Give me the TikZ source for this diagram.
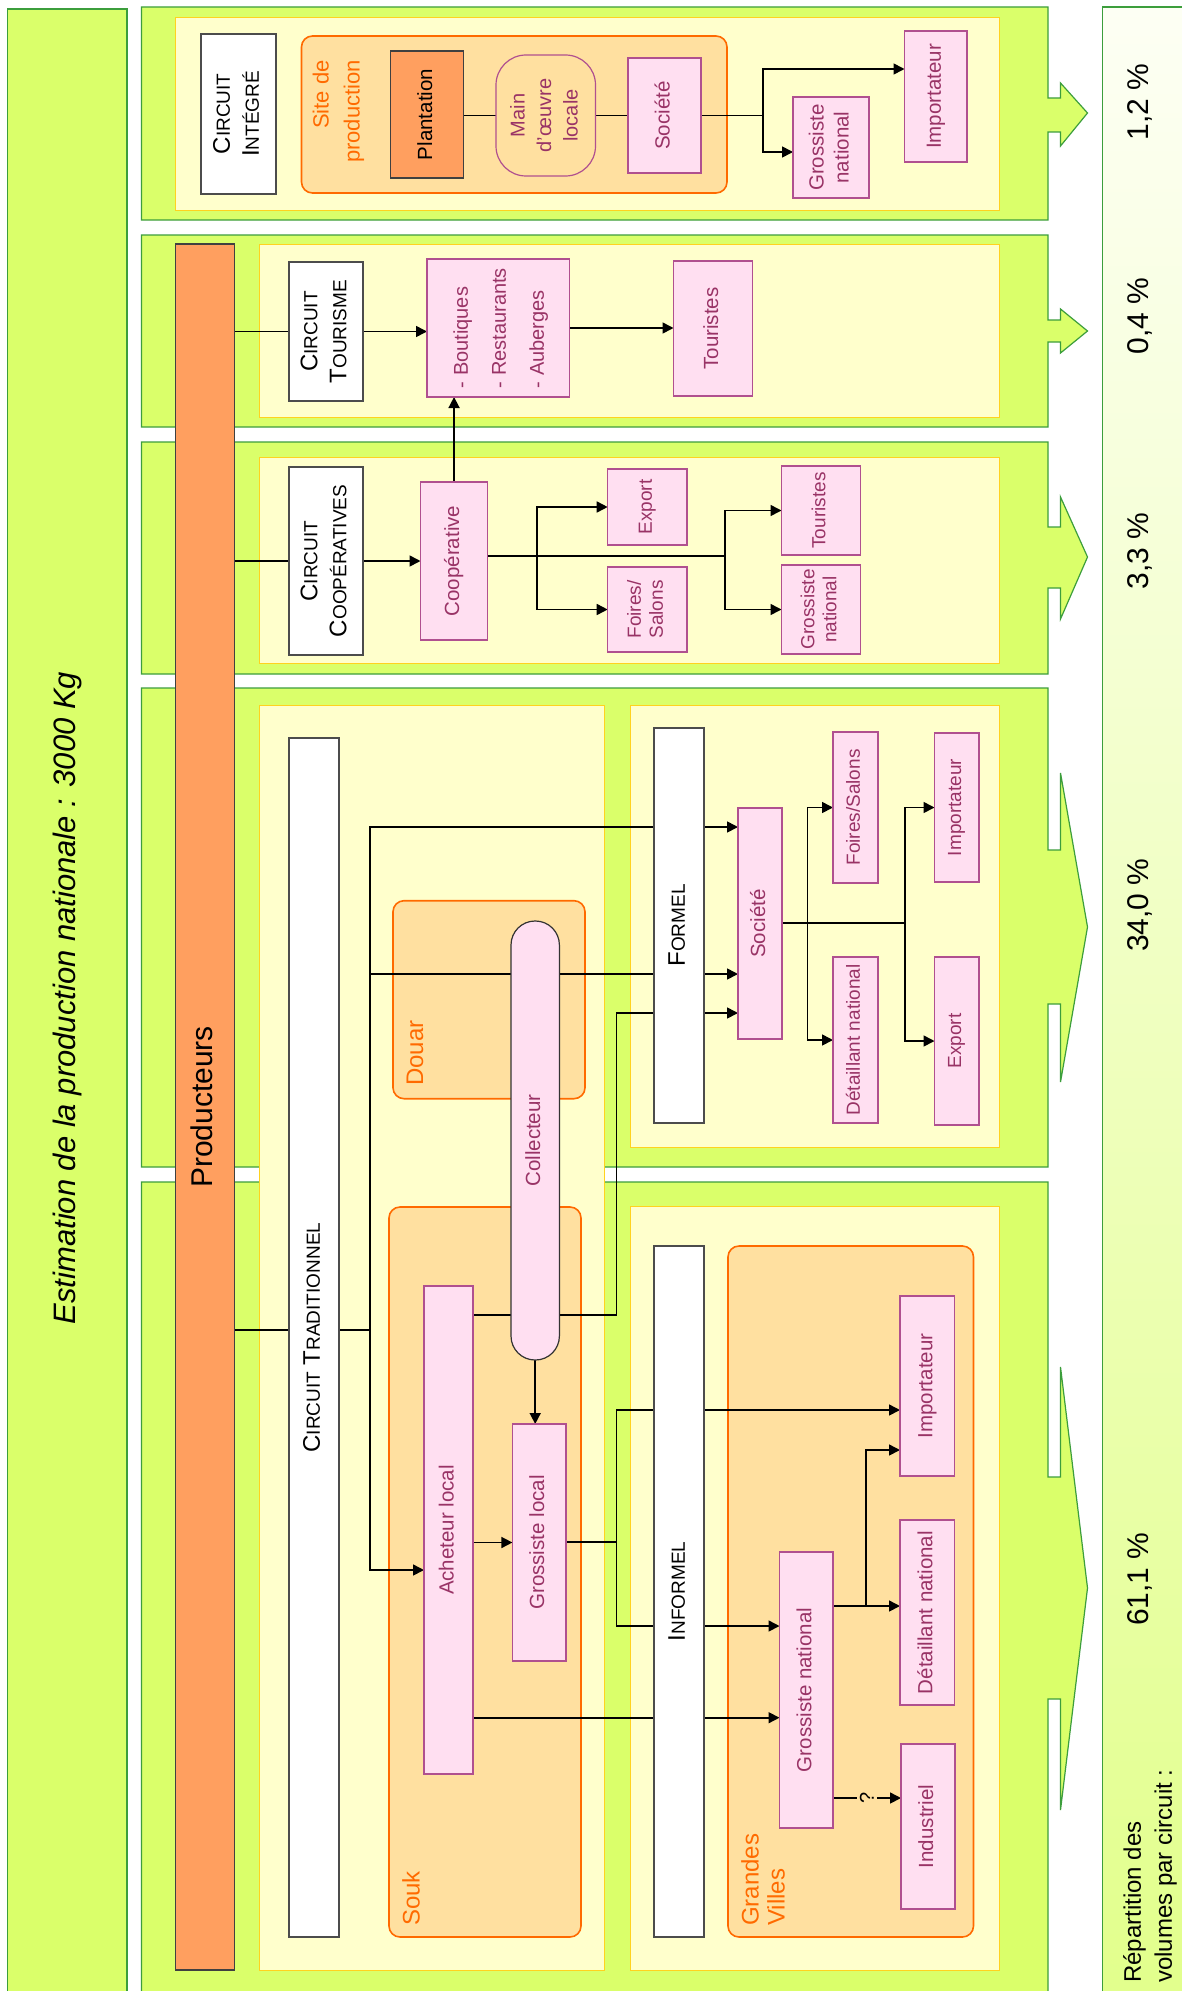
\documentclass[tikz,border=0pt]{standalone}
\usepackage{fontspec}
\setmainfont{Liberation Sans}
\usepackage{graphicx}
\usetikzlibrary{arrows.meta}
\definecolor{pgreen}{HTML}{DAFF6A}
\definecolor{pgreenb}{HTML}{3C9E3C}
\definecolor{pyel}{HTML}{FFFFCC}
\definecolor{pyelb}{HTML}{FFD21F}
\definecolor{porg}{HTML}{FFE0A0}
\definecolor{porgb}{HTML}{FF6A00}
\definecolor{ppink}{HTML}{FFDFF1}
\definecolor{ppinkb}{HTML}{B0508F}
\definecolor{ptext}{HTML}{993366}
\definecolor{pbar}{HTML}{FF9F5F}
\definecolor{rtop}{HTML}{FDFFF4}
\definecolor{rbot}{HTML}{E2FF8C}
\newcommand{\rotc}[1]{\rotatebox{90}{\begin{tabular}{@{}c@{}}#1\end{tabular}}}
\newcommand{\rotl}[1]{\rotatebox{90}{\begin{tabular}{@{}l@{}}#1\end{tabular}}}
\newcommand{\scx}[2]{#1{\fontsize{19}{29}\selectfont #2}}
\newcommand{\bx}[7]{%
  \pgfmathsetmacro{\bw}{#5-#3}\pgfmathsetmacro{\bh}{#6-#4}%
  \pgfmathsetmacro{\bcx}{(#3+#5)/2}\pgfmathsetmacro{\bcy}{(#4+#6)/2}%
  \node[#1, minimum width=\bw pt, minimum height=\bh pt] (#2) at (\bcx,\bcy) {#7};}
\newcommand{\gpanel}[7]{%
  \draw[gpan] (141.5,#1) -- (1048,#1) -- (1048,#3) -- (1060.5,#3) -- (1060.5,#5) -- (1087.5,#7)
   -- (1060.5,#6) -- (1060.5,#4) -- (1048,#4) -- (1048,#2) -- (141.5,#2) -- cycle;}
\pgfdeclarelayer{bg}
\pgfdeclarelayer{lines}
\pgfsetlayers{bg,lines,main}
\tikzset{
  box/.style={draw, rectangle, inner sep=0pt, outer sep=0pt},
  pinkbox/.style={box, fill=ppink, draw=ppinkb, line width=1.2pt, text=ptext, font=\fontsize{20.5}{25}\selectfont},
  pinksm/.style={pinkbox, font=\fontsize{19}{22}\selectfont},
  whitebox/.style={box, fill=white, draw=black!70, line width=1.3pt, font=\fontsize{24}{29}\selectfont},
  region/.style={box, fill=porg, draw=porgb, line width=1.6pt, rounded corners=11pt},
  orlabel/.style={text=porgb, inner sep=0pt, rotate=90, font=\fontsize{24}{28}\selectfont},
  conn/.style={line width=1.6pt, black},
  arr/.style={conn, -{Triangle[length=11pt,width=11pt]}},
  gpan/.style={fill=pgreen, draw=pgreenb, line width=1.2pt},
  ypan/.style={fill=pyel, draw=pyelb, line width=1pt},
  pct/.style={rotate=90, font=\fontsize{30}{36}\selectfont},
  qmark/.style={fill=porg, rotate=90, inner sep=3pt, font=\fontsize{20}{20}\selectfont},
}
\begin{document}
\begin{tikzpicture}[x=1pt,y=-1pt,line join=miter]
\useasboundingbox (0,0) rectangle (1182,1991);
\clip (0,0) rectangle (1182,1991);
\begin{pgfonlayer}{bg}
\fill[white] (0,0) rectangle (1182,1991);
% title panel
\draw[gpan] (7.5,9) rectangle (127,2000);
% right panel
\path[top color=rtop, bottom color=rbot, draw=pgreenb, line width=1.2pt] (1102.5,7) rectangle (1190,2000);
% circuit panels
\gpanel{7}{220}{98}{132}{83}{146}{113}
\gpanel{235}{427}{320}{342}{309}{353}{331}
\gpanel{442}{674}{527}{588}{497}{619}{557}
\gpanel{688}{1167}{850}{1004}{773}{1082}{927}
\gpanel{1182}{2000}{1477}{1699}{1367}{1810}{1588}
% inner yellow panels
\draw[ypan] (175,18) rectangle (999,210);
\draw[ypan] (259.5,244) rectangle (999,417);
\draw[ypan] (259.5,457) rectangle (999,663);
\draw[ypan] (259.5,705) rectangle (604,1970);
\draw[ypan] (630,705) rectangle (999,1147);
\draw[ypan] (630,1206) rectangle (999,1970);
% regions
\bx{region}{site}{301.5}{36}{727}{193}{}
\bx{region}{douar}{393}{900.7}{585}{1098.7}{}
\bx{region}{souk}{389}{1207}{581}{1937}{}
\bx{region}{gv}{728}{1246}{973.5}{1937}{}
\end{pgfonlayer}

% title and percentages
\node[rotate=90, font=\itshape\fontsize{31}{37}\selectfont] (title) at (67,998) {Estimation de la production nationale : 3000 Kg};
\node[pct] (p1) at (1140,102) {1,2 \%};
\node[pct] (p2) at (1140,316) {0,4 \%};
\node[pct] (p3) at (1140,551) {3,3 \%};
\node[pct] (p4) at (1140,905) {34,0 \%};
\node[pct] (p5) at (1140,1579) {61,1 \%};
\node[rotate=90, anchor=west, align=left, inner sep=0pt, font=\fontsize{24}{31}\selectfont] (rep) at (1150,1983) {Répartition des\\volumes par circuit :};

% producteurs bar
\bx{box, fill=pbar, draw=black!75, line width=1.2pt, font=\fontsize{30}{36}\selectfont}{prod}{175.6}{244}{234.7}{1970}{\rotc{Producteurs}}

% region labels
\node[orlabel, anchor=east, align=right, font=\fontsize{22}{31}\selectfont] (sitel) at (338.5,60) {Site de\\production};
\node[orlabel, anchor=west] (douarl) at (415,1086) {Douar};
\node[orlabel, anchor=west] (soukl) at (411,1926) {Souk};
\node[orlabel, anchor=west, align=left, font=\fontsize{24}{26}\selectfont] (gvl) at (763,1926) {Grandes\\Villes};

% panel 1
\bx{whitebox}{ci}{201}{34}{276}{194}{\rotc{\scx{C}{IRCUIT}\\\scx{I}{NTÉGRÉ}}}
\bx{box, fill=pbar, draw=black!75, line width=1.2pt, font=\fontsize{20.5}{25}\selectfont}{plant}{390.5}{51}{463.6}{178}{\rotc{Plantation}}
\bx{pinkbox, fill=porg, rounded corners=30pt, font=\fontsize{20}{26.5}\selectfont}{main}{496}{55}{595.5}{176}{\rotc{Main\\d’œuvre\\locale}}
\bx{pinkbox}{soc1}{628}{58}{701}{173}{\rotc{Société}}
\bx{pinkbox}{gn1}{793}{97}{869}{198}{\rotc{Grossiste\\national}}
\bx{pinkbox}{imp1}{904.5}{31}{967}{162}{\rotc{Importateur}}

% panel 2
\bx{whitebox}{ct}{289}{262}{363}{401}{\rotc{\scx{C}{IRCUIT}\\\scx{T}{OURISME}}}
\bx{pinkbox, font=\fontsize{20}{38}\selectfont}{bout}{427}{259}{569.5}{397}{\rotl{- Boutiques\\- Restaurants\\- Auberges}}
\bx{pinkbox}{tour}{673.5}{261}{752.6}{396}{\rotc{Touristes}}

% panel 3
\bx{whitebox}{cc}{289}{467}{363}{655}{\rotc{\scx{C}{IRCUIT}\\\scx{C}{OOPÉRATIVES}}}
\bx{pinkbox}{coop}{420.5}{482}{487.6}{640}{\rotc{Coopérative}}
\bx{pinksm}{exp3}{607.7}{469}{687}{545}{\rotc{Export}}
\bx{pinksm}{foi3}{607.7}{567}{687}{652}{\rotc{Foires/\\Salons}}
\bx{pinksm}{tou3}{781.5}{466}{860.6}{555}{\rotc{Touristes}}
\bx{pinksm}{gn3}{781.5}{565}{860.6}{654}{\rotc{Grossiste\\national}}

% panel 4
\bx{whitebox}{fml}{654}{728}{704}{1123}{\rotc{\scx{F}{ORMEL}}}
\bx{pinkbox}{soc4}{738}{808}{782}{1039}{\rotc{Société}}
\bx{pinksm}{foi4}{833}{732}{878}{883}{\rotc{Foires/Salons}}
\bx{pinksm}{imp4}{934.5}{733}{979}{882}{\rotc{Importateur}}
\bx{pinksm}{det4}{833}{957}{878}{1123}{\rotc{Détaillant national}}
\bx{pinksm}{exp4}{934.5}{957}{979}{1125}{\rotc{Export}}
\bx{pinkbox, draw=black!80, rounded corners=24pt}{coll}{511}{921}{559.4}{1360}{\rotc{Collecteur}}

% panel 5
\bx{whitebox}{ctr}{289}{738}{339}{1937}{\rotc{\scx{C}{IRCUIT} \scx{T}{RADITIONNEL}}}
\bx{pinkbox}{ach}{424}{1286}{473}{1774}{\rotc{Acheteur local}}
\bx{pinkbox}{gl}{512.4}{1424}{566}{1661}{\rotc{Grossiste local}}
\bx{whitebox}{inf}{654}{1246}{704}{1937}{\rotc{\scx{I}{NFORMEL}}}
\bx{pinkbox}{gn5}{779.5}{1552}{833}{1828}{\rotc{Grossiste national}}
\bx{pinkbox}{imp5}{900}{1296}{954.5}{1476}{\rotc{Importateur}}
\bx{pinkbox}{det5}{900}{1520}{954.5}{1705}{\rotc{Détaillant national}}
\bx{pinkbox}{ind5}{901}{1744}{955}{1909}{\rotc{Industriel}}

% coordinates
\coordinate (j1) at (763,115.5);
\coordinate (j1a) at (763,69);
\coordinate (j1b) at (763,152);
\coordinate (k1) at (537,556);
\coordinate (k2) at (725,556);
\coordinate (m1) at (807.6,923);
\coordinate (m2) at (905,923);
\coordinate (t1) at (370,827);
\coordinate (t2) at (370,974);
\coordinate (t3) at (370,1330);
\coordinate (t4) at (370,1570);
\coordinate (f1) at (616.4,1315);
\coordinate (f2) at (616.4,1013);
\coordinate (g0) at (616.4,1542);
\coordinate (g1) at (616.4,1410);
\coordinate (g2) at (616.4,1626);
\coordinate (h1) at (700,1717.7);
\coordinate (n0) at (866,1606);
\coordinate (n1) at (866,1450);
\coordinate (q) at (866,1798);

\begin{pgfonlayer}{lines}
% panel 1
\draw[conn] (plant.east|-main.west) -- (main.west);
\draw[conn] (main.east) -- (soc1.west);
\draw[arr] (soc1.east) -- (j1) -- (j1a) -- (imp1.west|-j1a);
\draw[arr] (j1) -- (j1b) -- (gn1.west|-j1b);
% panel 2
\draw[conn] (prod.east|-ct.west) -- (ct.west);
\draw[arr] (ct.east) -- (bout.west|-ct.east);
\draw[arr] (bout.east) -- (tour.west|-bout.east);
\draw[arr] (coop.north) -- (bout.south-|coop.north);
% panel 3
\draw[conn] (prod.east|-cc.west) -- (cc.west);
\draw[arr] (cc.east) -- (coop.west|-cc.east);
\draw[conn] (coop.east|-k1) -- (k2);
\draw[arr] (k1) |- (exp3.west);
\draw[arr] (k1) |- (foi3.west);
\draw[arr] (k2) |- (tou3.west);
\draw[arr] (k2) |- (gn3.west);
% panel 4
\draw[conn] (soc4.east|-m1) -- (m2);
\draw[arr] (m1) |- (foi4.west);
\draw[arr] (m1) |- (det4.west);
\draw[arr] (m2) |- (imp4.west);
\draw[arr] (m2) |- (exp4.west);
% traditional circuit
\draw[conn] (prod.east|-t3) -- (ctr.west|-t3);
\draw[conn] (ctr.east|-t3) -- (t3);
\draw[arr] (t4) -- (t1) -- (soc4.west|-t1);
\draw[arr] (t2) -- (soc4.west|-t2);
\draw[arr] (t1) -- (t4) -- (ach.west|-t4);
\draw[arr] (ach.east|-f1) -- (f1) -- (f2) -- (soc4.west|-f2);
\draw[arr] (coll.south) -- (gl.north-|coll.south);
\draw[arr] (ach.east|-gl.west) -- (gl.west);
\draw[conn] (gl.east|-g0) -- (g0);
\draw[arr] (g0) -- (g1) -- (imp5.west|-g1);
\draw[arr] (g0) -- (g2) -- (gn5.west|-g2);
\draw[arr] (ach.east|-h1) -- (gn5.west|-h1);
\draw[arr] (gn5.east|-n0) -- (det5.west|-n0);
\draw[arr] (n0) -- (n1) -- (imp5.west|-n1);
\draw[arr] (gn5.east|-q) -- node[qmark] (qm) {?} (ind5.west|-q);
\end{pgfonlayer}
\end{tikzpicture}
\end{document}
